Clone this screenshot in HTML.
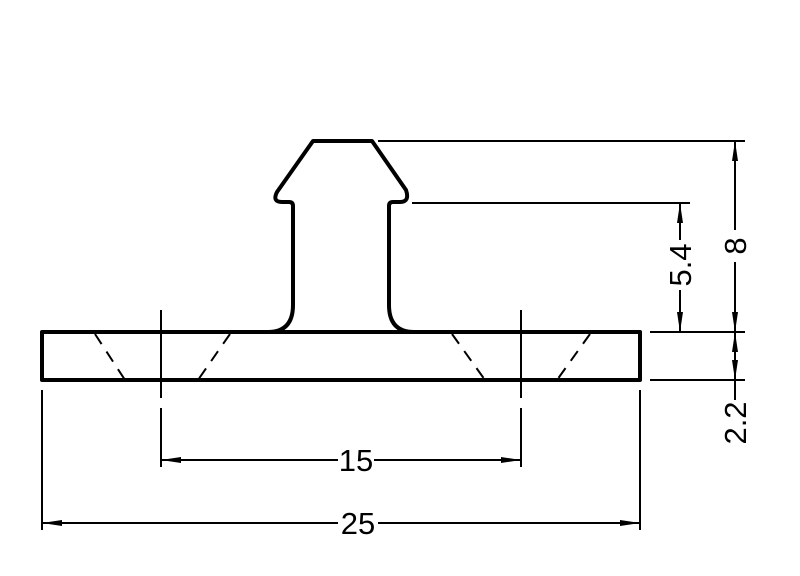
<!DOCTYPE html>
<html><head><style>html,body{margin:0;padding:0;background:#fff}svg{display:block}</style></head>
<body>
<svg width="800" height="576" viewBox="0 0 800 576" xmlns="http://www.w3.org/2000/svg">
<g fill="none" stroke="#000" stroke-linejoin="round" stroke-linecap="round">
<path d="M268,332 Q293,332 293,305 L293,206 Q293,202 289,202 L282,202 Q272,202 277,192 L313,141 L372,141 L406,190 Q410,202 400,202 L393,202 Q389,202 389,206 L389,305 Q389,332 414,332" stroke-width="4" fill="#fff"/>
<rect x="42" y="332" width="598" height="48" stroke-width="4"/>
<g stroke-width="2" stroke-dasharray="12,9" stroke-linecap="butt">
<path d="M95,334 L125,380 M230,334 L198,380 M452,334 L485,380 M590,334 L557,380"/>
</g>
<g stroke-width="2" stroke-linecap="butt">
<path d="M161,310 V398 M161,408 V467 M521,310 V398 M521,408 V467"/>
<path d="M42,390 V530 M640,390 V530"/>
<path d="M378,141 H745 M412,203 H690 M650,332 H745 M650,380 H745"/>
<path d="M161,460 H338 M374,460 H521" />
<path d="M42,523 H338 M378,523 H640"/>
<path d="M680,203 V240 M680,290 V332"/>
<path d="M735,141 V230 M735,262 V332"/>
<path d="M735,332 V400"/>
</g>
<g stroke-width="0" fill="#000">
<path d="M161,460 l20,-3 v6z M521,460 l-20,-3 v6z M42,523 l20,-3 v6z M640,523 l-20,-3 v6z"/>
<path d="M680,203 l-3,20 h6z M680,332 l-3,-20 h6z M735,141 l-3,20 h6z M735,332 l-3,-20 h6z M735,332 l-3,20 h6z M735,380 l-3,-20 h6z"/>
</g>
</g>
<g font-family="Liberation Sans, sans-serif" font-size="31" text-anchor="middle" fill="#000">
<text x="356" y="471">15</text>
<text x="358" y="534">25</text>
<text transform="translate(691,265) rotate(-90)">5.4</text>
<text transform="translate(746,246) rotate(-90)">8</text>
<text transform="translate(746,423) rotate(-90)">2.2</text>
</g>
</svg>
</body></html>
